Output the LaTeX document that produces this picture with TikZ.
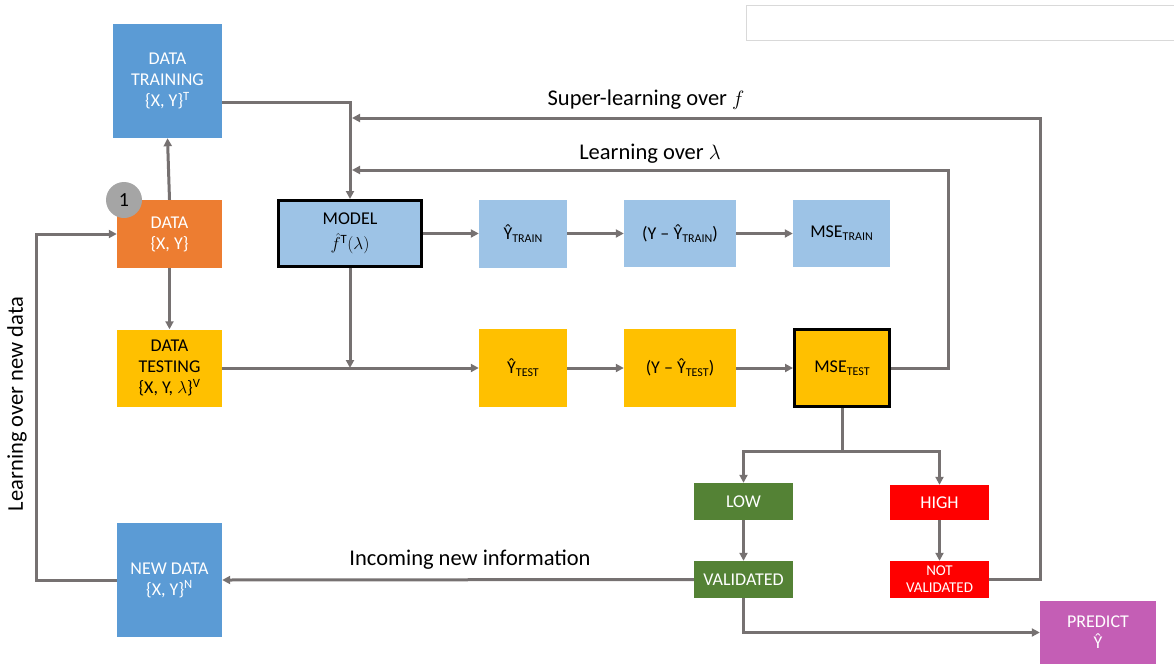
\documentclass[tikz,border=0pt]{standalone}
\usepackage{fontspec}
\setmainfont{Carlito}
\usetikzlibrary{arrows.meta}
\definecolor{cblue}{RGB}{91,155,213}
\definecolor{lblue}{RGB}{157,195,230}
\definecolor{corange}{RGB}{237,125,49}
\definecolor{cyellow}{RGB}{255,192,0}
\definecolor{cgreen}{RGB}{84,130,53}
\definecolor{cred}{RGB}{255,0,0}
\definecolor{cpurple}{RGB}{196,94,181}
\definecolor{cline}{RGB}{118,113,113}
\definecolor{cgrey}{RGB}{165,165,165}
\newcommand{\sbt}[1]{\raisebox{-0.35ex}{\fontsize{12}{12}\selectfont #1}}
\tikzset{
  box/.style={rectangle, inner sep=1pt, align=center, font=\fontsize{18}{21}\selectfont},
  wbox/.style={box, text=white},
  thick border/.style={draw=black, line width=3pt},
  arr/.style={draw=cline, line width=3pt, -{Triangle[length=8pt,width=8pt]}},
  ln/.style={draw=cline, line width=3pt},
  lab/.style={font=\fontsize{22.5}{26}\selectfont, inner sep=1pt}
}
\begin{document}
\begin{tikzpicture}[x=1pt,y=-1pt]
\useasboundingbox (0,0) rectangle (1174,664);
% faint empty box top right
\node[draw=black!15, line width=1pt, minimum width=440pt, minimum height=35pt, inner sep=0pt] (blank) at (966,22.5) {};
% nodes
\node[wbox, fill=cblue, minimum width=109pt, minimum height=114pt] (dtrain) at (167.5,81) {DATA\\TRAINING\\\{X, Y\}\textsuperscript{T}};
\node[wbox, fill=corange, minimum width=105pt, minimum height=68pt] (data) at (169.5,234) {DATA\\\{X, Y\}};
\node[box, fill=cyellow, minimum width=105pt, minimum height=77pt] (dtest) at (169.5,368) {DATA\\TESTING\\\{X, Y, $\lambda$\}\textsuperscript{V}};
\node[box, fill=lblue, thick border, minimum width=143pt, minimum height=66pt] (model) at (350,233.5) {MODEL\\[4pt]$\hat{f}{}^{\mathrm{T}}(\lambda)$};
\node[box, fill=lblue, minimum width=88pt, minimum height=68pt] (ytrain) at (523,233.5) {Ŷ\sbt{TRAIN}};
\node[box, fill=lblue, minimum width=112pt, minimum height=67pt] (etrain) at (680,233.5) {(Y – Ŷ\sbt{TRAIN})};
\node[box, fill=lblue, minimum width=97pt, minimum height=67pt] (msetrain) at (841.5,233.5) {MSE\sbt{TRAIN}};
\node[box, fill=cyellow, minimum width=88pt, minimum height=78pt] (ytest) at (523,368) {Ŷ\sbt{TEST}};
\node[box, fill=cyellow, minimum width=112pt, minimum height=78pt] (etest) at (680,368) {(Y – Ŷ\sbt{TEST})};
\node[box, fill=cyellow, thick border, minimum width=95pt, minimum height=77pt] (msetest) at (842,368) {MSE\sbt{TEST}};
\node[wbox, fill=cgreen, minimum width=99pt, minimum height=37pt] (low) at (743.5,501.5) {LOW};
\node[wbox, fill=cgreen, minimum width=99pt, minimum height=37pt] (valid) at (743.5,579.5) {VALIDATED};
\node[wbox, fill=cred, minimum width=99pt, minimum height=35pt] (high) at (939.5,502.5) {HIGH};
\node[wbox, fill=cred, minimum width=99pt, minimum height=37pt, font=\fontsize{15}{17}\selectfont] (notval) at (939.5,579.5) {NOT\\VALIDATED};
\node[wbox, fill=cpurple, minimum width=116pt, minimum height=63pt] (predict) at (1098,632.5) {PREDICT\\Ŷ};
\node[wbox, fill=cblue, minimum width=105pt, minimum height=114pt] (newdata) at (169.5,580) {NEW DATA\\\{X, Y\}\textsuperscript{N}};
\node[circle, fill=cgrey, minimum size=36pt, inner sep=0pt, font=\fontsize{20}{20}\selectfont] (one) at (124,200) {1};
% labels
\node[lab] (lsuper) at (646,100) {Super-learning over $f$};
\node[lab] (llambda) at (650,154) {Learning over $\lambda$};
\node[lab] (lincoming) at (470,560) {Incoming new information};
\node[lab, rotate=90] (lnew) at (17,404) {Learning over new data};
% coordinates
\coordinate (sljoin) at (352,118);
\coordinate (lljoin) at (352,170);
% connectors
\draw[arr] (data.north) -- (dtrain.south);
\draw[arr] (data.south) -- (dtest.north);
\draw[arr] ([yshift=-21pt]dtrain.east) -| (model.north);
\draw[arr] (notval.east) -- ++(51,0) |- (sljoin);
\draw[arr] (msetest.east) -- ++(57,0) |- (lljoin);
\draw[arr] (model.east) -- (ytrain.west);
\draw[arr] (ytrain.east) -- (etrain.west);
\draw[arr] (etrain.east) -- (msetrain.west);
\draw[arr] (model.south) -- (model.south |- dtest.east);
\draw[arr] (dtest.east) -- (ytest.west);
\draw[arr] (ytest.east) -- (etest.west);
\draw[arr] (etest.east) -- (msetest.west);
\draw[ln] (msetest.south) -- ++(0,43) coordinate (split);
\draw[arr] (split) -| (low.north);
\draw[arr] (split) -| (high.north);
\draw[arr] (low.south) -- (valid.north);
\draw[arr] (high.south) -- (notval.north);
\draw[arr] (valid.west) -- (newdata.east);
\draw[arr] (valid.south) |- (predict.west);
\draw[arr] (newdata.west) -- ++(-80,0) |- (data.west);
\end{tikzpicture}
\end{document}
